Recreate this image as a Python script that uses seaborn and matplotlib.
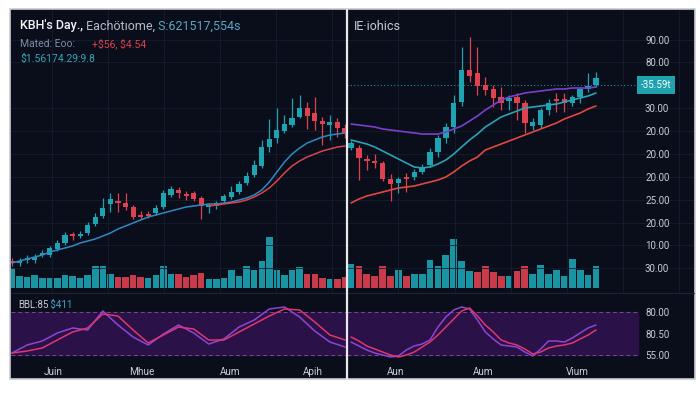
import numpy as np
import pandas as pd
import seaborn as sns
import matplotlib
matplotlib.use('Agg')
import matplotlib.pyplot as plt
from matplotlib.lines import Line2D
from matplotlib.patches import Rectangle

# ---- values ----
# left panel candles
left_open = [39, 37, 40, 40, 45, 45, 51, 57, 66, 64, 67, 76, 84, 96, 99, 97, 93, 85, 86, 87, 93, 105, 110,
             106, 107, 102, 93, 94, 99, 103, 108, 117, 125, 134, 153, 162, 169, 175, 183, 192, 187, 179, 175, 178, 172]
left_close = [37, 39, 42, 43, 47, 52, 57, 65, 64, 66, 75, 83, 92, 101, 97, 93, 83, 83, 84, 92, 107, 111, 107,
              104, 101, 94, 95, 97, 104, 108, 116, 124, 135, 153, 161, 170, 176, 182, 192, 184, 179, 176, 178, 172, 166]
left_high = [42, 42, 45, 46, 50, 54, 60, 68, 68, 69, 78, 87, 102, 107, 107, 107, 95, 89, 89, 95, 110, 114, 113,
             109, 109, 104, 97, 99, 106, 114, 119, 128, 140, 160, 181, 192, 185, 202, 205, 198, 203, 183, 185, 182, 176]
left_low = [34, 34, 37, 37, 43, 43, 49, 55, 60, 62, 65, 74, 82, 88, 88, 90, 81, 81, 82, 85, 91, 103, 102,
            100, 99, 81, 87, 91, 97, 101, 106, 115, 123, 132, 148, 157, 167, 173, 182, 171, 170, 155, 160, 163, 162]
left_volume = [20, 12, 11, 13, 10, 10, 10, 13, 12, 10, 13, 22, 22, 14, 11, 11, 13, 11, 10, 13, 22, 14, 14,
               11, 13, 15, 9, 9, 10, 18, 12, 22, 18, 27, 51, 18, 13, 18, 21, 14, 14, 10, 9, 9, 11]
left_vol_up = [1] * 14 + [0] * 4 + [1] * 4 + [0] * 4 + [1] * 13 + [0] * 3 + [1, 0, 0]
left_ma_fast = [37, 39, 41, 43, 45, 48, 50, 52, 54, 57, 59, 61, 64, 67, 71, 74, 77, 80, 83, 85, 87, 89, 91,
                93, 94, 95, 96, 96, 97, 98, 100, 102, 105, 110, 118, 128, 138, 146, 152, 157, 160, 163, 165, 166, 167]
left_ma_slow = [94, 95, 96, 97, 98, 100, 103, 107, 112, 119, 127, 134, 139, 143, 146, 149, 151, 153, 154]
left_osc_k = [7, 9, 12, 20, 28, 32, 46, 44, 30, 17, 25, 33, 31, 20, 20, 28, 36, 44, 51, 50, 38, 25, 20]
left_osc_d = [7, 15, 19, 27, 32, 30, 49, 35, 23, 15, 26, 35, 27, 16, 21, 33, 40, 51, 53, 43, 29, 18, 13]

# right panel candles
right_open = [152, 152, 141, 139, 137, 121, 117, 123, 123, 128, 135, 148, 162, 173, 198, 230, 227, 215, 211,
              203, 199, 203, 197, 174, 175, 190, 201, 201, 197, 203, 211, 215]
right_close = [157, 142, 139, 137, 121, 116, 121, 121, 128, 133, 148, 162, 173, 197, 230, 224, 214, 210, 202,
               197, 202, 197, 177, 178, 190, 197, 199, 197, 203, 211, 214, 222]
right_high = [159, 155, 145, 146, 139, 126, 123, 127, 131, 136, 152, 165, 177, 205, 253, 263, 253, 223, 215,
              213, 205, 207, 200, 182, 192, 201, 207, 207, 205, 213, 227, 228]
right_low = [150, 120, 130, 132, 119, 99, 107, 108, 120, 126, 133, 143, 157, 167, 194, 218, 205, 205, 193,
             190, 190, 180, 167, 170, 172, 185, 188, 188, 194, 197, 208, 213]
right_volume = [24, 22, 14, 12, 22, 12, 18, 12, 14, 14, 28, 22, 33, 49, 27, 17, 16, 22, 16, 12, 12, 17, 22,
                14, 23, 14, 18, 12, 29, 18, 13, 22]
right_vol_up = [1, 0, 0, 0, 0, 0, 1, 0] + [1] * 8 + [0, 0, 0, 0, 1, 0, 0] + [1] * 9
right_ma_long = [176, 175, 174, 173, 171, 170, 169, 168, 167, 166, 166, 166, 168, 171, 174, 179, 184, 190, 195,
                 200, 203, 205, 207, 208, 209, 210, 211, 211, 212, 212, 212, 213]
right_ma_fast = [160, 158, 156, 153, 149, 145, 141, 137, 133, 132, 133, 136, 140, 146, 153, 160, 166, 173, 178,
                 183, 186, 189, 192, 193, 194, 195, 196, 198, 200, 202, 204, 207]
right_ma_slow = [97, 101, 104, 106, 108, 110, 112, 113, 114, 116, 118, 120, 123, 128, 134, 139, 143, 150, 153,
                 156, 159, 162, 165, 168, 171, 174, 177, 181, 184, 187, 191, 194]
right_osc_k = [23, 19, 14, 11, 8, 5, 3, 5, 8, 13, 18, 25, 33, 41, 49, 52, 44, 35, 28, 20, 17, 15, 11, 6, 8,
               12, 14, 15, 17, 21, 25, 30]
right_osc_d = [18, 14, 10, 7, 5, 3, 4, 10, 14, 16, 20, 33, 43, 50, 53, 51, 40, 28, 21, 15, 14, 13, 8, 4, 11,
               19, 19, 18, 22, 27, 32, 35]

last_price = 215
last_price_label = '-35.59t'
price_ticks = [260, 238, 192, 169, 146, 123, 100, 77, 55, 32]
price_tick_labels = ['90.00', '80.00', '30.00', '20.00', '20.00', '20.00', '25.00', '20.00', '10.00', '30.00']
osc_band = (5, 48)
osc_ticks = [48, 26, 5]
osc_tick_labels = ['80.00', '80.50', '55.00']
left_months = ['Juin', 'Mhue', 'Aum', 'Apih']
left_month_pos = [5.4, 17.2, 28.8, 39.8]
right_months = ['Aun', 'Aum', 'Vium']
right_month_pos = [5.6, 16.7, 28.7]

# ---- style ----
sns.set_theme(style='dark')
plt.rcParams['font.family'] = ['Roboto', 'DejaVu Sans']

BG = '#0a0e1a'
UP = '#1fa3b0'
DOWN = '#de4251'
VUP = '#1a93a2'
VDOWN = '#c93a4a'
GRID = '#151d30'
TXT = '#c7ccd6'

W, H = 700, 393
fig = plt.figure(figsize=(7, 3.93), dpi=100, facecolor='white')


def rect(x0, y0, x1, y1):
    # pixel box measured from the top-left -> figure fraction
    return [x0 / W, 1 - y1 / H, (x1 - x0) / W, (y1 - y0) / H]


fig.patches.append(Rectangle((10 / W, 1 - 379 / H), 685 / W, 370 / H, transform=fig.transFigure,
                             facecolor=BG, edgecolor='#c9ccd4', lw=1.2, zorder=0))


def make_ax(box, z=1):
    ax = fig.add_axes(rect(*box), zorder=z)
    ax.set_facecolor('none')
    for s in ax.spines.values():
        s.set_visible(False)
    return ax


vol_l = make_ax((11, 10, 347, 293), 1)
vol_r = make_ax((347, 10, 694, 293), 1)
ax_l = make_ax((11, 10, 347, 293), 2)
ax_r = make_ax((347, 10, 694, 293), 2)
osc_l = make_ax((11, 293, 347, 378), 2)
osc_r = make_ax((347, 293, 694, 378), 2)

xlim_l = (-0.13, 44.26)
xlim_r = (-0.51, 43.41)


def candles(ax, o, c, h, l):
    o, c, h, l = map(np.asarray, (o, c, h, l))
    x = np.arange(len(o))
    col = np.where(c >= o, UP, DOWN)
    ax.vlines(x, l, h, colors=col, lw=0.9, zorder=3)
    ax.bar(x, np.maximum(np.abs(c - o), 1.8), bottom=np.minimum(o, c), width=0.68, color=col,
           linewidth=0, zorder=4)


def volume(ax, v, up, xlim):
    x = np.arange(len(v))
    ax.bar(x, v, width=0.86, color=[VUP if u else VDOWN for u in up], linewidth=0)
    ax.set_ylim(-5, 278)
    ax.set_xlim(*xlim)
    ax.set_xticks([])
    ax.set_yticks([])


volume(vol_l, left_volume, left_vol_up, xlim_l)
volume(vol_r, right_volume, right_vol_up, xlim_r)

candles(ax_l, left_open, left_close, left_high, left_low)
candles(ax_r, right_open, right_close, right_high, right_low)

xl = np.arange(len(left_open))
sns.lineplot(x=xl, y=left_ma_fast, ax=ax_l, color='#2f88c2', lw=1.1, zorder=5)
sns.lineplot(x=xl[-len(left_ma_slow):], y=left_ma_slow, ax=ax_l, color='#d9434c', lw=1.1, zorder=5)

xr = np.arange(len(right_open))
sns.lineplot(x=xr, y=right_ma_long, ax=ax_r, color='#7c3fcb', lw=1.2, zorder=5)
sns.lineplot(x=xr, y=right_ma_fast, ax=ax_r, color='#2aa2b6', lw=1.2, zorder=5)
sns.lineplot(x=xr, y=right_ma_slow, ax=ax_r, color='#e2473f', lw=1.2, zorder=5)

for ax, xlim, grid0, step in [(ax_l, xlim_l, 5.3, 7.4), (ax_r, xlim_r, 6.0, 7.1)]:
    ax.set_xlim(*xlim)
    ax.set_ylim(7, 290)
    ax.set_yticks(price_ticks)
    ax.set_xticks(np.arange(grid0, xlim[1], step))
    ax.grid(True, color=GRID, lw=0.6)
    ax.tick_params(length=0, labelbottom=False, labelleft=False)
    ax.set_xlabel('')
    ax.set_ylabel('')

ax_r.yaxis.tick_right()
ax_r.set_yticklabels(price_tick_labels)
ax_r.tick_params(axis='y', labelright=True, pad=-(694 - 645) * 0.72, labelsize=7, labelcolor=TXT, length=0)

# last price marker
band_end = (636 - 347) / 347
ax_r.axhline(last_price, xmin=0, xmax=band_end, color='#2aa6b5', ls=(0, (1, 2)), lw=0.8, alpha=0.8, zorder=2)
ax_r.text((656 - 347) / 347, last_price, last_price_label, transform=ax_r.get_yaxis_transform(),
          ha='center', va='center', fontsize=7, color='white', parse_math=False,
          bbox=dict(boxstyle='square,pad=0.4', fc='#1ea3ae', ec='none'))

# oscillator
sns.lineplot(x=np.arange(0, 45, 2), y=left_osc_d, ax=osc_l, color='#8d45d6', lw=1.1, zorder=4)
sns.lineplot(x=np.arange(0, 45, 2), y=left_osc_k, ax=osc_l, color='#e0366f', lw=1.1, zorder=4)
sns.lineplot(x=xr, y=right_osc_d, ax=osc_r, color='#8d45d6', lw=1.1, zorder=4)
sns.lineplot(x=xr, y=right_osc_k, ax=osc_r, color='#e0366f', lw=1.1, zorder=4)

osc_end = (638 - 347) / 347
for ax, xlim, xmax, labels, pos in [(osc_l, xlim_l, 1.0, left_months, left_month_pos),
                                    (osc_r, xlim_r, osc_end, right_months, right_month_pos)]:
    ax.set_xlim(*xlim)
    ax.set_ylim(-18, 67)
    ax.axhspan(*osc_band, xmin=0, xmax=xmax, color='#2a1249', zorder=1)
    for lvl in osc_band:
        ax.axhline(lvl, xmin=0, xmax=xmax, color='#7a4a95', ls=(0, (4, 3)), lw=0.7, zorder=2)
    ax.set_xticks(pos)
    ax.set_xticklabels(labels)
    ax.set_yticks(osc_ticks)
    ax.grid(False)
    ax.tick_params(axis='x', length=0, pad=-7.8, labelsize=7.2, labelcolor=TXT)
    ax.tick_params(axis='y', length=0, labelleft=False)
    ax.set_xlabel('')
    ax.set_ylabel('')

osc_r.yaxis.tick_right()
osc_r.set_yticklabels(osc_tick_labels)
osc_r.tick_params(axis='y', labelright=True, pad=-(694 - 645) * 0.72, labelsize=7, labelcolor=TXT, length=0)

# separators
fig.add_artist(Line2D([11 / W, 694 / W], [1 - 293 / H] * 2, color='#1c2438', lw=0.8, zorder=3))
fig.add_artist(Line2D([347 / W] * 2, [1 - 379 / H, 1 - 10 / H], color='#e8eaf0', lw=1.6, zorder=10))


# header texts
def chain(parts, x, y, size, weight='normal'):
    t = fig.text(x / W, 1 - y / H, parts[0][0], color=parts[0][1], fontsize=size, va='center', ha='left',
                 parse_math=False, fontweight=weight)
    for s, c in parts[1:]:
        t = ax_l.annotate(s, xy=(1, 0.5), xycoords=t, va='center', ha='left', color=c, fontsize=size,
                          annotation_clip=False, parse_math=False)
    return t


chain([("KBH's Day.,", '#f2f4f8'), (' Eachötıome,', '#b3bdca'), (' S:621517,554s', '#5aa6c2')], 20, 26, 9,
      weight='medium')
fig.text(20 / W, 1 - 44 / H, 'Mated: Eoo:', color='#7b8ea6', fontsize=7.5, va='center', parse_math=False)
fig.text(92 / W, 1 - 44 / H, '+$56, $4.54', color='#e0404e', fontsize=7.5, va='center', parse_math=False)
fig.text(20 / W, 1 - 59 / H, '$1.56174.29:9.8', color='#38a3b8', fontsize=7.5, va='center', parse_math=False)
fig.text(354 / W, 1 - 26 / H, 'IE·iohics', color='#c8ced8', fontsize=9, va='center', parse_math=False)
chain([('BBL:85', '#c9ced8'), (' $411', '#4aa3c9')], 18, 305, 7)

fig.savefig('out.png', dpi=100, facecolor='white')
